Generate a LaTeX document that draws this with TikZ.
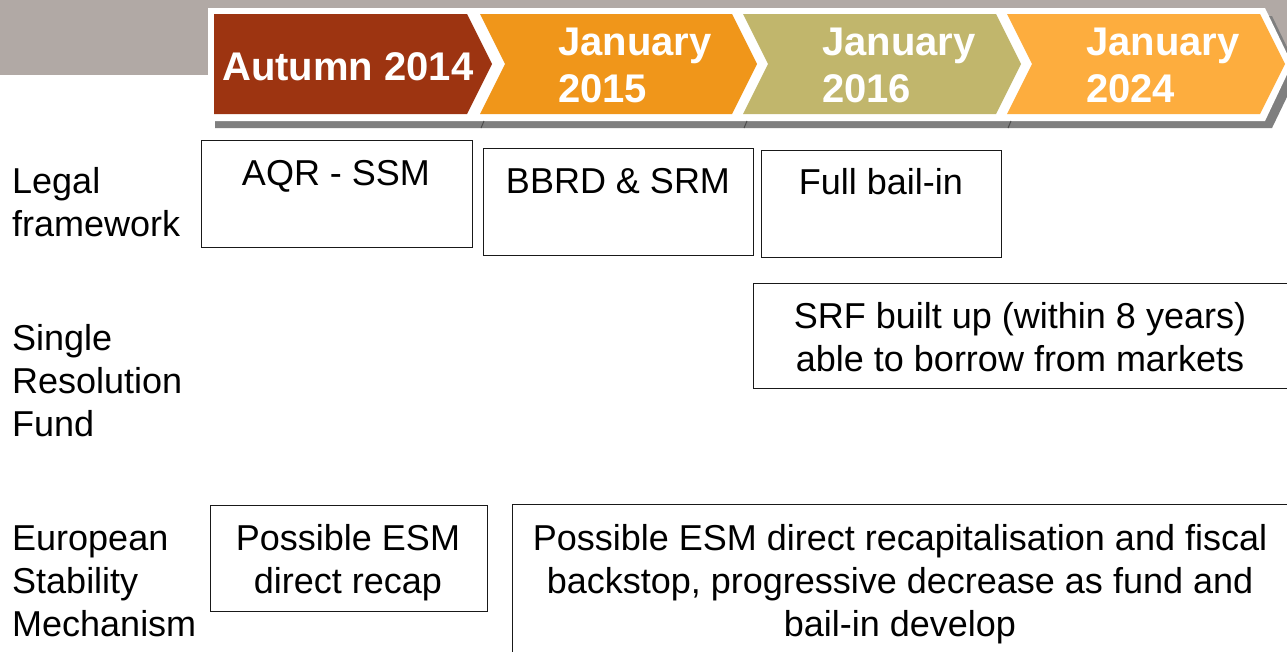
\documentclass[tikz,border=0pt]{standalone}
\usepackage{fontspec}
\setmainfont{Liberation Sans}
\definecolor{cRed}{HTML}{9D3411}
\definecolor{cOrange}{HTML}{F0961A}
\definecolor{cOlive}{HTML}{C1B66C}
\definecolor{cOrangeB}{HTML}{FDAD3E}
\definecolor{cBand}{HTML}{B1A9A5}
\definecolor{cShadow}{HTML}{7F7F7F}
\begin{document}
\begin{tikzpicture}[x=1pt,y=-1pt,
  box/.style={draw=black!90, line width=1.3pt, inner sep=0pt, anchor=north west},
  body/.style={font=\fontsize{36}{43}\selectfont, align=center, inner sep=0pt, anchor=base},
  lbl/.style={font=\fontsize{36}{43}\selectfont, align=left, inner sep=0pt, anchor=base west},
  hdr/.style={font=\fontsize{40}{47}\selectfont\bfseries, text=white, align=left, inner sep=0pt, anchor=base west},
  notch/.style={draw=black!70, line width=1pt}
]
\clip (0,0) rectangle (1287,651);
\fill[white] (0,0) rectangle (1287,651);
% grey band
\fill[cBand] (0,0) rectangle (1287,75);
% header shadow and white frame
\fill[cShadow] (215,16) -- (1272,16) -- (1299,72) -- (1272,128) -- (215,128) -- cycle;
\fill[white] (208,8) -- (1265,8) -- (1292,64) -- (1265,121) -- (208,121) -- cycle;
\draw[notch] (484,121) -- (481,128);
\draw[notch] (747,121) -- (744,128);
\draw[notch] (1011,121) -- (1008,128);
% chevrons
\fill[cRed] (214,14) -- (467,14) -- (492,64) -- (467,114) -- (214,114) -- cycle;
\fill[cOrange] (480,14) -- (732,14) -- (757,64) -- (732,114) -- (480,114) -- (505,64) -- cycle;
\fill[cOlive] (743,14) -- (996,14) -- (1021,64) -- (996,114) -- (743,114) -- (768,64) -- cycle;
\fill[cOrangeB] (1007,14) -- (1260,14) -- (1285,64) -- (1260,114) -- (1007,114) -- (1032,64) -- cycle;
% header texts (base anchor = last line baseline)
\node[hdr] (h1) at (222,80) {Autumn 2014};
\node[hdr] (h2) at (558,102) {January\\2015};
\node[hdr] (h3) at (822,102) {January\\2016};
\node[hdr] (h4) at (1086,102) {January\\2024};
% row labels
\node[lbl] (l1) at (12,236) {Legal\\framework};
\node[lbl] (l2) at (12,436) {Single\\Resolution\\Fund};
\node[lbl] (l3) at (12,636) {European\\Stability\\Mechanism};
% boxes
\node[box, minimum width=271pt, minimum height=107pt] (b1) at (201,140) {};
\node[body] (t1) at (336,185) {AQR - SSM};
\node[box, minimum width=270pt, minimum height=107pt] (b2) at (483,148) {};
\node[body] (t2) at (618,193) {BBRD \& SRM};
\node[box, minimum width=240pt, minimum height=107pt] (b3) at (761,150) {};
\node[body] (t3) at (881,194) {Full bail-in};
\node[box, minimum width=560pt, minimum height=105pt] (b4) at (753,283) {};
\node[body] (t4) at (1020,371) {SRF built up (within 8 years)\\able to borrow from markets};
\node[box, minimum width=277pt, minimum height=106pt] (b5) at (210,505) {};
\node[body] (t5) at (348,593) {Possible ESM\\direct recap};
\node[box, minimum width=800pt, minimum height=170pt] (b6) at (512,504) {};
\node[body] (t6) at (900,636) {Possible ESM direct recapitalisation and fiscal\\backstop, progressive decrease as fund and\\bail-in develop};
\end{tikzpicture}
\end{document}
